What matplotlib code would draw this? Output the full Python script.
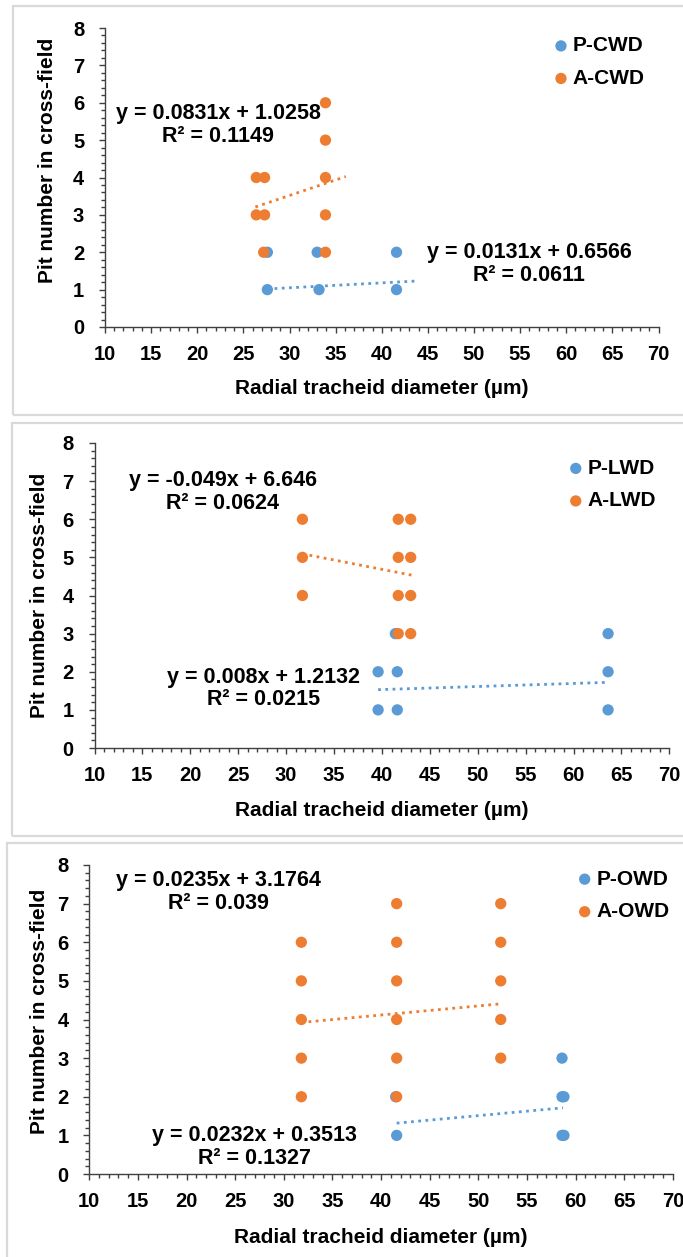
import numpy as np
import matplotlib
matplotlib.use("Agg")
import matplotlib.pyplot as plt
from matplotlib.patches import Rectangle
from matplotlib.ticker import MultipleLocator

plt.rcParams['font.family'] = ['Liberation Sans', 'DejaVu Sans']
plt.rcParams['font.weight'] = 'bold'

BLUE = '#5B9BD5'
ORANGE = '#ED7D31'

# ---- data ----
p_cwd_x = [27.6, 27.6, 33.2, 33.0, 41.6, 41.6]
p_cwd_y = [1, 2, 1, 2, 1, 2]
a_cwd_x = [26.4, 27.3, 26.4, 27.3, 27.2, 33.9, 33.9, 33.9, 33.9, 33.9]
a_cwd_y = [4, 4, 3, 3, 2, 6, 5, 4, 3, 2]

p_lwd_x = [39.6, 39.6, 41.6, 41.6, 41.4, 63.6, 63.6, 63.6]
p_lwd_y = [1, 2, 1, 2, 3, 1, 2, 3]
a_lwd_x = [31.7, 31.7, 31.7, 41.7, 41.7, 41.7, 41.7, 43.0, 43.0, 43.0, 43.0]
a_lwd_y = [6, 5, 4, 6, 5, 4, 3, 6, 5, 4, 3]

p_owd_x = [41.6, 41.5, 58.6, 58.6, 58.8, 58.6, 58.8]
p_owd_y = [1, 2, 3, 2, 2, 1, 1]
a_owd_x = [31.8, 31.8, 31.8, 31.8, 31.8,
           41.6, 41.6, 41.6, 41.6, 41.6, 41.6,
           52.3, 52.3, 52.3, 52.3, 52.3]
a_owd_y = [6, 5, 4, 3, 2, 7, 6, 5, 4, 3, 2, 7, 6, 5, 4, 3]

# trendlines: slope, intercept, r2, x range of the dotted line
p_cwd_fit = (0.0131, 0.6566, 0.0611, (27.6, 43.8))
a_cwd_fit = (0.0831, 1.0258, 0.1149, (26.3, 36.1))
p_lwd_fit = (0.008, 1.2132, 0.0215, (39.6, 63.6))
a_lwd_fit = (-0.049, 6.646, 0.0624, (31.7, 43.1))
p_owd_fit = (0.0232, 0.3513, 0.1327, (41.6, 58.7))
a_owd_fit = (0.0235, 3.1764, 0.039, (31.8, 52.2))

eq_texts = {
    'p_cwd': 'y = 0.0131x + 0.6566\nR² = 0.0611',
    'a_cwd': 'y = 0.0831x + 1.0258\nR² = 0.1149',
    'p_lwd': 'y = 0.008x + 1.2132\nR² = 0.0215',
    'a_lwd': 'y = -0.049x + 6.646\nR² = 0.0624',
    'p_owd': 'y = 0.0232x + 0.3513\nR² = 0.1327',
    'a_owd': 'y = 0.0235x + 3.1764\nR² = 0.039',
}

W, H = 683, 1257
fig = plt.figure(figsize=(W / 100, H / 100), dpi=100)


def px_axes(left, right, y0, y8):
    # axes box from pixel positions (top-left origin)
    return fig.add_axes([left / W, 1 - y0 / H, (right - left) / W, (y0 - y8) / H])


# panel frames
for (x0, y_top, y_bot) in [(13, 6, 415), (12, 423, 836), (7, 843, 1270)]:
    fig.add_artist(Rectangle((x0 / W, 1 - y_bot / H), (W + 10 - x0) / W, (y_bot - y_top) / H,
                             transform=fig.transFigure, fill=False,
                             edgecolor='#d9d9d9', linewidth=1.6))

panels = [
    dict(box=(105, 658.5, 327, 28), p=(p_cwd_x, p_cwd_y, p_cwd_fit, 'p_cwd', 'P-CWD'),
         a=(a_cwd_x, a_cwd_y, a_cwd_fit, 'a_cwd', 'A-CWD'),
         p_pos=(56.0, 1.68), a_pos=(22.25, 5.40), ylab=(-0.103, 0.558),
         leg=(0.805, 0.972)),
    dict(box=(94.5, 669.4, 748, 443), p=(p_lwd_x, p_lwd_y, p_lwd_fit, 'p_lwd', 'P-LWD'),
         a=(a_lwd_x, a_lwd_y, a_lwd_fit, 'a_lwd', 'A-LWD'),
         p_pos=(27.6, 1.56), a_pos=(23.4, 6.72), ylab=(-0.0965, 0.5),
         leg=(0.819, 0.948)),
    dict(box=(89.3, 672.9, 1174, 865), p=(p_owd_x, p_owd_y, p_owd_fit, 'p_owd', 'P-OWD'),
         a=(a_owd_x, a_owd_y, a_owd_fit, 'a_owd', 'A-OWD'),
         p_pos=(27.0, 0.70), a_pos=(23.25, 7.30), ylab=(-0.086, 0.527),
         leg=(0.831, 0.985)),
]

for pan in panels:
    ax = px_axes(*pan['box'])
    for (xs, ys, fit, key, label), color, pos in [
            (pan['p'], BLUE, pan['p_pos']), (pan['a'], ORANGE, pan['a_pos'])]:
        ax.scatter(xs, ys, s=66, color=color, edgecolors='none', label=label, zorder=3)
        slope, icpt, r2, (xa, xb) = fit
        xx = np.array([xa, xb])
        ax.plot(xx, slope * xx + icpt, linestyle=(0, (1, 1.6)), linewidth=2,
                color=color, zorder=4)
        ax.text(pos[0], pos[1], eq_texts[key], ha='center', va='center',
                multialignment='center', fontsize=15.5, fontweight='bold',
                linespacing=1.1, zorder=5)

    ax.set_xlim(10, 70)
    ax.set_ylim(0, 8)
    ax.xaxis.set_major_locator(MultipleLocator(5))
    ax.xaxis.set_minor_locator(MultipleLocator(1))
    ax.yaxis.set_major_locator(MultipleLocator(1))
    ax.yaxis.set_minor_locator(MultipleLocator(0.2))
    for s in ['top', 'right']:
        ax.spines[s].set_visible(False)
    for s in ['left', 'bottom']:
        ax.spines[s].set_color('#404040')
        ax.spines[s].set_linewidth(1.0)
    ax.tick_params(which='major', length=4, width=1, color='#404040',
                   labelsize=14.5, pad=9)
    ax.tick_params(which='minor', length=3, width=1, color='#404040')
    ax.tick_params(axis='y', pad=11)
    for lab in ax.get_xticklabels() + ax.get_yticklabels():
        lab.set_fontweight('bold')

    ax.set_xlabel('Radial tracheid diameter (µm)', fontsize=15, fontweight='bold')
    ax.xaxis.set_label_coords(0.5, -0.205)
    ax.xaxis.label.set_va('center')
    ax.set_ylabel('Pit number in cross-field', fontsize=15, fontweight='bold')
    ax.yaxis.set_label_coords(*pan['ylab'])
    ax.yaxis.label.set_va('center')

    ax.legend(loc='upper left', bbox_to_anchor=pan['leg'], frameon=False,
              handletextpad=0.05, handlelength=1.0,
              labelspacing=0.65, borderaxespad=0, borderpad=0,
              prop=dict(weight='bold', size=15))

fig.savefig('out.png', dpi=100)
